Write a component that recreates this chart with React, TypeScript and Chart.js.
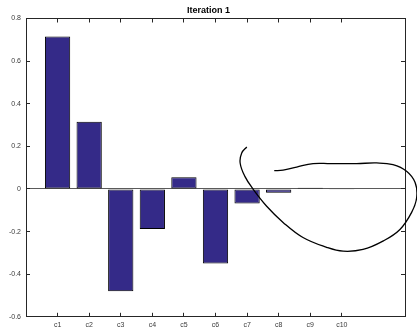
import React, { useEffect, useRef } from "react";
import { Chart, registerables } from "chart.js";

Chart.register(...registerables);

// Category labels and bar values
const categories = ["c1", "c2", "c3", "c4", "c5", "c6", "c7", "c8", "c9", "c10"];
const values = [0.715, 0.315, -0.48, -0.188, 0.055, -0.35, -0.068, -0.018, 0.006, -0.004];

// Y axis tick values
const yTicks = [-0.6, -0.4, -0.2, 0, 0.2, 0.4, 0.6, 0.8];

// Hand-drawn loop annotation, in axis units (x = category position, y = value)
const strokeX = [
  6.99, 6.83, 6.78, 6.93, 7.2, 7.62, 8.14, 8.77, 9.52, 10.04, 10.67, 11.3, 11.84,
  12.21, 12.37, 12.32, 12.05, 11.62, 11.1, 10.47, 9.63, 9.09, 8.57, 8.14, 7.86,
];
const strokeY = [
  0.197, 0.169, 0.122, 0.059, -0.003, -0.081, -0.157, -0.228, -0.274, -0.292, -0.284,
  -0.245, -0.19, -0.11, -0.04, 0.03, 0.083, 0.114, 0.122, 0.119, 0.119, 0.119, 0.103,
  0.088, 0.086,
];

const AXIS = "#262626";
const LABEL = "#3a3a3a";
const BASELINE = "#5a5a5a";
const FONT = "'Liberation Sans', Arial, Helvetica, sans-serif";
// negative length turns the tick marks inward, into the plot box
const TICK = -4;

export default function App() {
  const canvasRef = useRef<HTMLCanvasElement | null>(null);

  useEffect(() => {
    const canvas = canvasRef.current;
    if (!canvas) return;

    const categoryTicks = (scale: any) => {
      scale.ticks = categories.map((_, i) => ({ value: i + 1 }));
    };
    const valueTicks = (scale: any) => {
      scale.ticks = yTicks.map((v) => ({ value: v }));
    };

    const chart = new Chart(canvas, {
      type: "bar",
      data: {
        datasets: [
          {
            type: "line",
            data: strokeX.map((x, i) => ({ x, y: strokeY[i] })),
            borderColor: "#000",
            borderWidth: 1.3,
            pointRadius: 0,
            tension: 0.4,
            fill: false,
            clip: false as any,
            capBezierPoints: false,
            order: 0,
          } as any,
          {
            type: "bar",
            data: values.map((v, i) => ({ x: i + 1, y: v })),
            backgroundColor: "#342a88",
            borderColor: "#000",
            borderWidth: 1,
            borderSkipped: false,
            barPercentage: 0.8,
            categoryPercentage: 1,
            order: 1,
          } as any,
        ],
      },
      options: {
        responsive: false,
        animation: false,
        devicePixelRatio: 1,
        events: [],
        layout: { padding: 0 },
        plugins: {
          legend: { display: false },
          tooltip: { enabled: false },
          title: {
            display: true,
            text: "Iteration 1",
            color: "#000",
            font: { family: FONT, size: 9, weight: "bold" },
            padding: { top: 5, bottom: 2.7 },
          },
        },
        scales: {
          x: {
            type: "linear",
            position: "bottom",
            min: 0,
            max: 12,
            offset: false,
            afterBuildTicks: categoryTicks,
            afterFit: (s: any) => {
              s.height = 12.5;
            },
            ticks: {
              autoSkip: false,
              maxRotation: 0,
              padding: 8,
              color: LABEL,
              font: { family: FONT, size: 7 },
              callback: (v: any) => categories[Math.round(v) - 1] ?? "",
            },
            grid: {
              offset: false,
              drawOnChartArea: false,
              tickLength: TICK,
              tickColor: AXIS,
            },
            border: { color: AXIS, width: 1 },
          },
          x2: {
            type: "linear",
            position: "top",
            min: 0,
            max: 12,
            offset: false,
            afterBuildTicks: categoryTicks,
            afterFit: (s: any) => {
              s.height = 0;
            },
            ticks: { display: false },
            grid: {
              offset: false,
              drawOnChartArea: false,
              tickLength: TICK,
              tickColor: AXIS,
            },
            border: { color: AXIS, width: 1 },
          },
          y: {
            type: "linear",
            position: "left",
            min: -0.6,
            max: 0.8,
            afterBuildTicks: valueTicks,
            afterFit: (s: any) => {
              s.width = 26;
            },
            ticks: {
              padding: 9,
              color: LABEL,
              font: { family: FONT, size: 7 },
              callback: (v: any) => String(Math.round(v * 10) / 10),
            },
            grid: {
              drawOnChartArea: true,
              // only the zero baseline is drawn across the plot
              color: (ctx: any) =>
                ctx.tick && Math.abs(ctx.tick.value) < 1e-9 ? BASELINE : "rgba(0,0,0,0)",
              tickLength: TICK,
              tickColor: AXIS,
            },
            border: { color: AXIS, width: 1 },
          },
          y2: {
            type: "linear",
            position: "right",
            min: -0.6,
            max: 0.8,
            afterBuildTicks: valueTicks,
            afterFit: (s: any) => {
              s.width = 12;
            },
            ticks: { display: false },
            grid: {
              drawOnChartArea: false,
              tickLength: TICK,
              tickColor: AXIS,
            },
            border: { color: AXIS, width: 1 },
          },
        },
      } as any,
    });

    return () => chart.destroy();
  }, []);

  return (
    <div style={{ position: "fixed", left: 0, top: 0, width: 417, height: 330, background: "#fff" }}>
      <canvas ref={canvasRef} width={417} height={330} style={{ display: "block" }} />
    </div>
  );
}
